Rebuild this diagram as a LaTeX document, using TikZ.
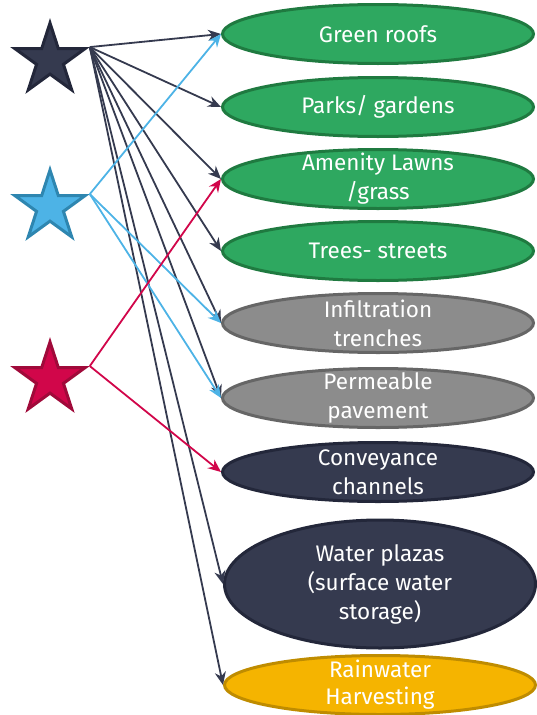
\documentclass[tikz,border=0pt]{standalone}
\usepackage{fontspec}
\newfontfamily\labelfont{Fira Sans}
\usetikzlibrary{shapes.geometric,arrows.meta}

\definecolor{navy}{HTML}{353A4F}
\definecolor{navyline}{HTML}{23273A}
\definecolor{skyblue}{HTML}{4DB3E6}
\definecolor{skyline}{HTML}{2E86B0}
\definecolor{crimson}{HTML}{D1064A}
\definecolor{crimsonline}{HTML}{A00A3A}
\definecolor{leaf}{HTML}{2EA860}
\definecolor{leafline}{HTML}{1F7A40}
\definecolor{stone}{HTML}{8C8C8C}
\definecolor{stoneline}{HTML}{666666}
\definecolor{amber}{HTML}{F5B400}
\definecolor{amberline}{HTML}{BF8C00}

\begin{document}
\begin{tikzpicture}[
    x=1pt, y=-1pt,
    starbox/.style={star, star points=5, star point ratio=2.618, minimum size=74pt,
                    inner sep=0pt, line width=3pt},
    pill/.style={ellipse, minimum width=311pt, minimum height=59pt, inner sep=-8pt,
                 line width=3pt, align=center, text=white,
                 font=\labelfont\fontsize{22.5}{29}\selectfont},
    arr/.style={-{Stealth[length=13pt,width=11pt]}, line width=1.8pt}
]
    \useasboundingbox (0,0) rectangle (537,715);

    % the three stars on the left
    \node[starbox, fill=navy, draw=navyline]         (sdark) at (50,60)  {};
    \node[starbox, fill=skyblue, draw=skyline]       (sblue) at (50,207) {};
    \node[starbox, fill=crimson, draw=crimsonline]   (sred)  at (50,379) {};

    % measures on the right, top to bottom
    \node[pill, fill=leaf, draw=leafline]   (roofs)   at (378,34)  {Green roofs};
    \node[pill, fill=leaf, draw=leafline]   (parks)   at (378,107) {Parks/ gardens};
    \node[pill, fill=leaf, draw=leafline]   (lawns)   at (378,179) {Amenity Lawns\\/grass};
    \node[pill, fill=leaf, draw=leafline]   (trees)   at (378,251) {Trees- streets};
    \node[pill, fill=stone, draw=stoneline] (trench)  at (378,323) {Infiltration\\trenches};
    \node[pill, fill=stone, draw=stoneline] (pave)    at (378,398) {Permeable\\pavement};
    \node[pill, fill=navy, draw=navyline]   (channel) at (378,472) {Conveyance\\channels};
    \node[pill, fill=navy, draw=navyline, minimum height=128pt]
                                            (plaza)   at (380,584) {Water plazas\\(surface water\\storage)};
    \node[pill, fill=amber, draw=amberline, font=\labelfont\fontsize{22.5}{27}\selectfont]
                                            (harvest) at (380,685) {Rainwater\\Harvesting};

    % dark star links
    \draw[arr, navy] (sdark.outer point 5) -- (roofs.west);
    \draw[arr, navy] (sdark.outer point 5) -- (parks.west);
    \draw[arr, navy] (sdark.outer point 5) -- (lawns.west);
    \draw[arr, navy] (sdark.outer point 5) -- (trees.west);
    \draw[arr, navy] (sdark.outer point 5) -- (trench.west);
    \draw[arr, navy] (sdark.outer point 5) -- (pave.west);
    \draw[arr, navy] (sdark.outer point 5) -- (plaza.west);
    \draw[arr, navy] (sdark.outer point 5) -- (harvest.west);

    % blue star links
    \draw[arr, skyblue] (sblue.outer point 5) -- (roofs.west);
    \draw[arr, skyblue] (sblue.outer point 5) -- (trench.west);
    \draw[arr, skyblue] (sblue.outer point 5) -- (pave.west);

    % red star links
    \draw[arr, crimson] (sred.outer point 5) -- (lawns.west);
    \draw[arr, crimson] (sred.outer point 5) -- (channel.west);
\end{tikzpicture}
\end{document}
